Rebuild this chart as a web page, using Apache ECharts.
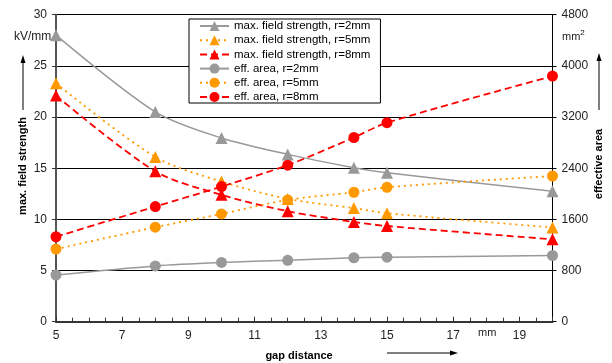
<!DOCTYPE html>
<html><head><meta charset="utf-8">
<script src="https://cdn.jsdelivr.net/npm/echarts@6/dist/echarts.min.js"></script>
<style>html,body{margin:0;padding:0;background:#fff}#c{width:612px;height:363px}</style>
</head><body><div id="c"></div>
<script>
// ---- data ----
const gap = [5, 8, 10, 12, 14, 15, 20];
const fieldR2 = [28.0, 20.5, 17.95, 16.35, 15.05, 14.55, 12.75];
const fieldR5 = [23.3, 16.1, 13.7, 12.0, 11.1, 10.6, 9.2];
const fieldR8 = [22.1, 14.7, 12.4, 10.8, 9.75, 9.35, 8.05];
const areaR2 = [730, 872, 926, 960, 1000, 1008, 1035];
const areaR5 = [1136, 1477, 1685, 1904, 2024, 2102, 2278];
const areaR8 = [1328, 1800, 2112, 2448, 2880, 3112, 3840];
const seriesNames = ['max. field strength, r=2mm','max. field strength, r=5mm','max. field strength, r=8mm','eff. area, r=2mm','eff. area, r=5mm','eff. area, r=8mm'];
const leftTicks = {min:0, max:30, interval:5};
const rightTicks = {min:0, max:4800, interval:800};
const xTicks = {min:5, max:20, interval:2};

const FONT = 'Liberation Sans, Arial, sans-serif';
const GRAY = '#999999', ORANGE = '#FF9900', RED = '#FF0000';
function pairs(ys){ return gap.map((x,i)=>[x, ys[i]]); }
function mk(name, ys, yIdx, color, ltype, sym, size){
  return {
    name, type:'line', yAxisIndex:yIdx, data:pairs(ys), smooth:0.3,
    symbol:sym, symbolSize:size, showSymbol:true,
    lineStyle:{color, width: ltype==='solid'?1.5:1.8, type: ltype},
    itemStyle:{color}, z: 3
  };
}
const chart = echarts.init(document.getElementById('c'), null, {renderer:'canvas'});
const option = {
  animation:false,
  backgroundColor:'#fff',
  textStyle:{fontFamily:FONT},
  grid:{left:56, right:59.5, top:14.7, bottom:41.3},
  legend:{
    data:seriesNames, orient:'vertical', left:189, top:19,
    backgroundColor:'#fff', borderColor:'#000', borderWidth:1,
    padding:[1,10,0,10], itemGap:2.2, itemWidth:29, itemHeight:12.5,
    textStyle:{fontSize:11.5, color:'#000', fontFamily:FONT}, z:10
  },
  xAxis:{
    type:'value', min:xTicks.min, max:xTicks.max, interval:xTicks.interval,
    axisLine:{lineStyle:{color:'#333', width:2}},
    axisTick:{inside:true, length:5, lineStyle:{color:'#333'}},
    minorTick:{show:true, splitNumber:4, length:4, lineStyle:{color:'#333'}},
    axisLabel:{fontSize:12, color:'#222', margin:8, showMaxLabel:false, fontFamily:FONT},
    splitLine:{show:false}
  },
  yAxis:[
    {type:'value', min:leftTicks.min, max:leftTicks.max, interval:leftTicks.interval, position:'left',
     axisLine:{show:true, lineStyle:{color:'#555', width:2}},
     axisTick:{show:true, length:4, lineStyle:{color:'#333'}},
     axisLabel:{fontSize:12, color:'#222', margin:9, fontFamily:FONT},
     splitLine:{show:true, lineStyle:{color:'#000', width:1}}},
    {type:'value', min:rightTicks.min, max:rightTicks.max, interval:rightTicks.interval, position:'right',
     axisLine:{show:true, lineStyle:{color:'#000', width:1}},
     axisTick:{show:true, length:4, lineStyle:{color:'#000'}},
     axisLabel:{fontSize:12, color:'#222', margin:9, fontFamily:FONT, formatter:(v)=>String(v)},
     splitLine:{show:false}}
  ],
  series:[
    mk(seriesNames[0], fieldR2, 0, GRAY, 'solid', 'triangle', 12),
    mk(seriesNames[1], fieldR5, 0, ORANGE, [2,4], 'triangle', 12),
    mk(seriesNames[2], fieldR8, 0, RED, [7,4], 'triangle', 12),
    mk(seriesNames[3], areaR2, 1, GRAY, 'solid', 'circle', 11),
    mk(seriesNames[4], areaR5, 1, ORANGE, [2,4], 'circle', 11),
    mk(seriesNames[5], areaR8, 1, RED, [7,4], 'circle', 11)
  ],
  graphic:[
    {type:'text', left:14, top:31, style:{text:'kV/mm', font:'12px '+FONT, fill:'#222'}},
    {type:'text', left:562, top:29, style:{text:'{a|mm}{b|2}', rich:{a:{fontSize:11, fontFamily:FONT, fill:'#222'}, b:{fontSize:8, fontFamily:FONT, verticalAlign:'top', padding:[0,0,8,0]}}}},
    {type:'text', left:478, top:327, style:{text:'mm', font:'11px '+FONT, fill:'#222'}},
    {type:'text', x:299, y:356, style:{text:'gap distance', font:'bold 11px '+FONT, fill:'#000', align:'center', verticalAlign:'middle'}},
    {type:'line', shape:{x1:387, y1:353, x2:452, y2:353}, style:{stroke:'#000', lineWidth:1}},
    {type:'polygon', shape:{points:[[458,353],[450,350.5],[450,355.5]]}, style:{fill:'#000'}},
    {type:'text', x:23, y:166, rotation:Math.PI/2, style:{text:'max. field strength', font:'bold 11px '+FONT, fill:'#000', align:'center', verticalAlign:'middle'}},
    {type:'line', shape:{x1:23, y1:110, x2:23, y2:61}, style:{stroke:'#000', lineWidth:1}},
    {type:'polygon', shape:{points:[[23,55],[20.5,63],[25.5,63]]}, style:{fill:'#000'}},
    {type:'text', x:599, y:164, rotation:Math.PI/2, style:{text:'effective area', font:'bold 11px '+FONT, fill:'#000', align:'center', verticalAlign:'middle'}},
    {type:'line', shape:{x1:599, y1:110, x2:599, y2:59}, style:{stroke:'#000', lineWidth:1}},
    {type:'polygon', shape:{points:[[599,53],[596.5,61],[601.5,61]]}, style:{fill:'#000'}}
  ]
};
chart.setOption(option);
</script></body></html>
